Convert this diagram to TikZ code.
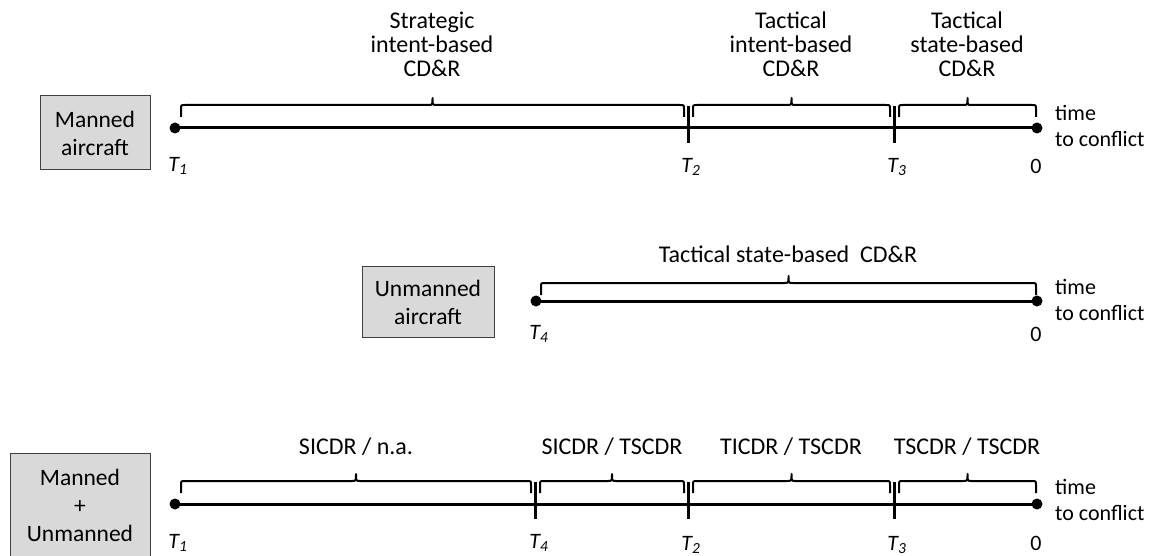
\documentclass[tikz,border=0pt]{standalone}
\usepackage{fontspec}
\setmainfont{Carlito}
\definecolor{boxgray}{HTML}{D9D9D9}
\definecolor{boxline}{HTML}{404040}

% curly brace spanning x1..x2 whose flat part lies at ytop (y grows downward)
\newcommand\spanbrace[3]{%
  \draw[brc] (#1,{#3+12}) -- (#1,{#3+4}) .. controls (#1,#3) .. ({#1+4},#3)
    -- ({(#1+#2)/2-4},#3) .. controls ({(#1+#2)/2},#3) .. ({(#1+#2)/2},{#3-7})
    .. controls ({(#1+#2)/2},#3) .. ({(#1+#2)/2+4},#3)
    -- ({#2-4},#3) .. controls (#2,#3) .. (#2,{#3+4}) -- (#2,{#3+12});}

\begin{document}
\begin{tikzpicture}[x=1pt,y=-1pt,
  axis/.style={line width=3pt},
  tickmark/.style={line width=3pt},
  brc/.style={line width=2pt, line join=round},
  endpt/.style={circle, fill=black, inner sep=0pt, minimum size=11pt},
  lbl/.style={font=\fontsize{24}{24}\selectfont, align=center, inner sep=0pt},
  tlbl/.style={font=\fontsize{22}{22}\selectfont\itshape, inner sep=0pt},
  zlbl/.style={font=\fontsize{22}{22}\selectfont, inner sep=0pt},
  axlbl/.style={font=\fontsize{22}{26}\selectfont, align=left, inner sep=0pt, anchor=west},
  actor/.style={draw=boxline, fill=boxgray, line width=1pt, align=center,
    font=\fontsize{23.5}{28}\selectfont, inner sep=0pt}]
\useasboundingbox (0,0) rectangle (1157,556);

% ---------- manned aircraft ----------
\node[actor, minimum width=110pt, minimum height=74pt] (man) at (95,133) {Manned\\aircraft};
\node[endpt] (m1) at (175,128) {};
\node[endpt] (m0) at (1037,128) {};
\draw[axis] (m1.center) -- (m0.center);
\coordinate (mT2) at (688,128);
\coordinate (mT3) at (894,128);
\draw[tickmark] ([yshift=-15pt]mT2) -- ([yshift=22pt]mT2);
\draw[tickmark] ([yshift=-15pt]mT3) -- ([yshift=22pt]mT3);
\spanbrace{181}{684}{105}
\spanbrace{693}{890}{105}
\spanbrace{899}{1036}{105}
\node[lbl] (ms) at (432,44) {Strategic\\intent-based\\CD\&R};
\node[lbl] (mti) at (791,44) {Tactical\\intent-based\\CD\&R};
\node[lbl] (mts) at (967,44) {Tactical\\state-based\\CD\&R};
\node[tlbl] (lm1) at (178,166) {T\textsubscript{1}};
\node[tlbl] (lm2) at (691,167) {T\textsubscript{2}};
\node[tlbl] (lm3) at (897,167) {T\textsubscript{3}};
\node[zlbl] (lm0) at (1036,166) {0};
\node[axlbl] (mtime) at (1055,126) {time\\to conflict};

% ---------- unmanned aircraft ----------
\node[actor, minimum width=132pt, minimum height=71pt] (unm) at (428,302) {Unmanned\\aircraft};
\node[endpt] (u4) at (536,301) {};
\node[endpt] (u0) at (1037,301) {};
\draw[axis] (u4.center) -- (u0.center);
\spanbrace{541}{1036}{283}
\node[lbl] (uts) at (788,254) {Tactical state-based\ \ CD\&R};
\node[tlbl] (lu4) at (539,334) {T\textsubscript{4}};
\node[zlbl] (lu0) at (1036,334) {0};
\node[axlbl] (utime) at (1055,300) {time\\to conflict};

% ---------- manned + unmanned ----------
\node[actor, minimum width=140pt, minimum height=104pt] (mix) at (80,505) {Manned\\+\\Unmanned};
\node[endpt] (x1) at (175,504) {};
\node[endpt] (x0) at (1037,504) {};
\draw[axis] (x1.center) -- (x0.center);
\coordinate (xT4) at (535,504);
\coordinate (xT2) at (688,504);
\coordinate (xT3) at (894,504);
\foreach \t in {xT4,xT2,xT3}
  \draw[tickmark] ([yshift=-15pt]\t) -- ([yshift=22pt]\t);
\spanbrace{181}{531}{481}
\spanbrace{540}{684}{481}
\spanbrace{693}{890}{481}
\spanbrace{899}{1036}{481}
\node[lbl] (xa) at (356,447) {SICDR / n.a.};
\node[lbl] (xb) at (612,447) {SICDR / TSCDR};
\node[lbl] (xc) at (791,447) {TICDR / TSCDR};
\node[lbl] (xd) at (967,447) {TSCDR / TSCDR};
\node[tlbl] (lx1) at (178,543) {T\textsubscript{1}};
\node[tlbl] (lx4) at (539,543) {T\textsubscript{4}};
\node[tlbl] (lx2) at (691,545) {T\textsubscript{2}};
\node[tlbl] (lx3) at (897,545) {T\textsubscript{3}};
\node[zlbl] (lx0) at (1036,543) {0};
\node[axlbl] (xtime) at (1055,500) {time\\to conflict};
\end{tikzpicture}
\end{document}
